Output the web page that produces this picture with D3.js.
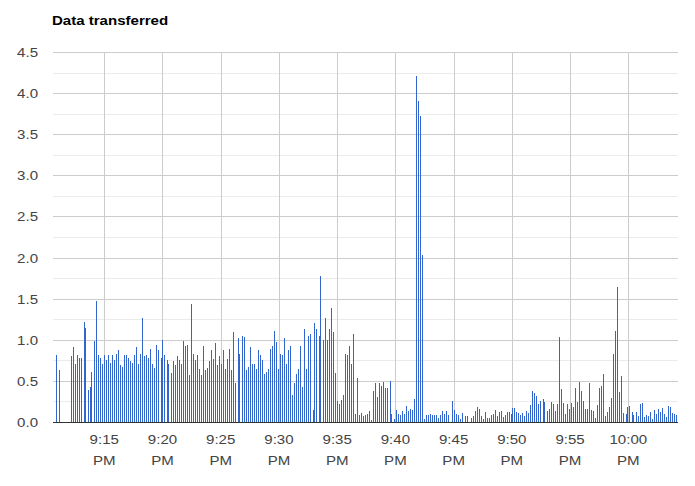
<!DOCTYPE html>
<html>
<head>
<meta charset="utf-8">
<script src="https://cdn.jsdelivr.net/npm/d3@7"></script>
<style>
  html, body { margin: 0; padding: 0; background: #fff; }
  svg { display: block; }
</style>
</head>
<body>
<div id="chart"></div>
<script>
// ---- DATA ----
const title = "Data transferred";
// sample times, seconds after 9:10:00 PM
const times = [54,69,131,142,152,162,172,183,198,203,219,229,234,250,260,270,281,291,301,312,322,332,343,353,363,374,384,394,404,415,425,435,446,456,466,477,487,497,507,518,528,538,549,559,569,580,595,600,611,626,631,647,657,667,678,688,698,708,719,729,739,750,760,770,781,791,
801,812,822,832,842,853,863,873,884,894,904,914,925,935,945,956,966,976,992,997,1012,1023,1033,1043,1054,1064,1074,1085,1095,1105,1116,1126,1136,1146,1157,1167,1177,1188,1198,1208,1219,1229,1239,1250,1260,1270,1280,1291,1301,1311,1322,1332,1342,1353,1363,1378,1383,1394,1409,1414,1430,1440,1450,1461,1471,
1481,1492,1502,1512,1523,1533,1543,1554,1564,1574,1584,1595,1605,1615,1626,1636,1646,1657,1667,1677,1688,1698,1708,1718,1729,1739,1749,1760,1775,1780,1796,1806,1816,1827,1837,1847,1858,1868,1878,1888,1899,1911,1921,1931,1942,1950,1961,1971,1981,1992,2002,2012,2022,2033,2043,2053,2064,2074,2095,2105,2115,2126,
2136,2146,2162,2172,2192,2203,2213,2223,2234,2244,2254,2265,2275,2285,2295,2306,2316,2326,2337,2347,2357,2368,2378,2388,2399,2404,2414,2424,2435,2445,2455,2466,2476,2486,2496,2507,2517,2527,2538,2548,2563,2569,2584,2594,2605,2615,2625,2636,2646,2656,
2667,2677,2687,2697,2708,2718,2728,2739,2749,2759,2770,2780,2790,2800,2811,2821,2831,2842,2852,2862,2873,2883,2893,2903,2914,2924,2934,2945,2955,2965,2976,2991,2996,3007,3022,3027,3043,3053,3063,3074,3084,3094,3104,3115,3125,3135,3146,3156,3166,3177,3187,3197,3208,3218,3228,3238,3249];

const values = [0.81,0.63,0.80,0.91,0.71,0.81,0.78,0.78,1.22,1.14,0.39,0.43,0.61,0.99,1.47,0.81,0.78,0.70,0.81,0.75,0.81,0.72,0.81,0.76,0.83,0.88,0.69,0.67,0.81,0.82,0.78,0.74,0.72,0.82,0.91,0.70,0.83,1.26,0.80,0.82,0.78,0.89,0.71,0.66,0.94,0.88,0.78,1.00,0.82,0.76,0.71,0.60,0.74,0.69,0.80,0.75,0.71,0.99,0.93,0.94,0.57,1.44,0.83,0.76,0.82,0.65,
0.57,0.93,0.63,0.66,0.74,0.88,0.77,0.96,0.69,0.80,0.70,0.87,0.65,0.77,0.89,0.63,1.10,0.47,1.02,0.83,1.04,1.03,0.63,0.67,0.91,0.70,0.70,0.64,0.87,0.82,0.76,0.58,0.61,0.64,0.89,0.93,1.11,0.97,0.65,0.83,0.81,1.02,0.71,0.87,0.93,0.33,0.48,0.58,0.64,0.93,0.43,1.13,0.65,1.04,1.07,0.14,1.20,1.13,1.04,1.77,1.00,1.26,1.00,1.13,1.39,
1.09,0.60,0.25,0.22,0.27,0.33,0.83,0.81,0.92,0.71,1.07,0.10,0.53,0.08,0.11,0.07,0.08,0.10,0.13,0.03,0.38,0.47,0.30,0.47,0.44,0.49,0.41,0.41,0.50,0.10,0.04,0.15,0.10,0.09,0.13,0.10,0.20,0.13,0.16,0.15,0.28,4.21,3.90,3.72,2.03,0.04,0.09,0.09,0.10,0.09,0.09,0.09,0.05,0.09,0.13,0.10,0.13,0.08,0.25,0.15,0.10,0.08,
0.04,0.11,0.07,0.07,0.05,0.07,0.13,0.18,0.16,0.07,0.04,0.12,0.05,0.05,0.09,0.10,0.15,0.07,0.12,0.13,0.06,0.09,0.12,0.12,0.10,0.17,0.17,0.12,0.11,0.09,0.11,0.07,0.13,0.11,0.21,0.38,0.35,0.32,0.22,0.26,0.28,0.24,0.13,0.16,0.24,0.22,0.13,0.22,1.03,0.40,
0.23,0.10,0.22,0.16,0.23,0.18,0.41,0.24,0.49,0.38,0.26,0.16,0.16,0.47,0.15,0.13,0.05,0.21,0.41,0.44,0.58,0.07,0.12,0.18,0.29,0.83,1.11,1.64,0.36,0.56,0.11,0.10,0.18,0.19,0.12,0.09,0.12,0.07,0.22,0.23,0.06,0.09,0.07,0.12,0.04,0.15,0.10,0.16,0.12,0.17,0.10,0.06,0.19,0.18,0.11,0.10,0.09];

// x axis ticks (minutes after 9:00 PM) and y ticks
const xTickMinutes = [15,20,25,30,35,40,45,50,55,60];
const yTicks = [0,0.5,1.0,1.5,2.0,2.5,3.0,3.5,4.0,4.5];
const yMinorTicks = [0.25,0.75,1.25,1.75,2.25,2.75,3.25,3.75,4.25];

// ---- CHART ----
const W = 695, H = 486;
const plot = {left: 53, right: 678, top: 52, bottom: 422};
const SX = 1.158; // horizontal text stretch of the reference

const base = new Date(2000, 0, 1, 21, 10, 0);
const sec = s => new Date(base.getTime() + s * 1000);

const x = d3.scaleTime()
  .domain([sec(36), sec(3256)])
  .range([plot.left, plot.right]);
const y = d3.scaleLinear()
  .domain([0, 4.5])
  .range([plot.bottom, plot.top]);

const svg = d3.select("#chart").append("svg")
  .attr("width", W).attr("height", H)
  .style("font-family", "'Liberation Sans', Arial, sans-serif");

const data = times.map((t, i) => ({t: sec(t), v: values[i]}));

// minor horizontal gridlines
svg.append("g").selectAll("line").data(yMinorTicks).join("line")
  .attr("x1", plot.left).attr("x2", plot.right)
  .attr("y1", d => Math.round(y(d)) + 0.5).attr("y2", d => Math.round(y(d)) + 0.5)
  .attr("stroke", "#ebebeb").attr("stroke-width", 1);

// major horizontal gridlines
svg.append("g").selectAll("line").data(yTicks.filter(d => d > 0)).join("line")
  .attr("x1", plot.left).attr("x2", plot.right)
  .attr("y1", d => Math.round(y(d)) + 0.5).attr("y2", d => Math.round(y(d)) + 0.5)
  .attr("stroke", "#cccccc").attr("stroke-width", 1);

// vertical gridlines
const xTicks = xTickMinutes.map(m => new Date(2000, 0, 1, 21, m, 0));
svg.append("g").selectAll("line").data(xTicks).join("line")
  .attr("x1", d => Math.round(x(d)) + 0.5).attr("x2", d => Math.round(x(d)) + 0.5)
  .attr("y1", plot.top).attr("y2", plot.bottom)
  .attr("stroke", "#cccccc").attr("stroke-width", 1);

// bars
svg.append("g").selectAll("rect").data(data).join("rect")
  .attr("x", d => Math.round(x(d.t) - 0.5))
  .attr("width", 1)
  .attr("y", d => y(d.v))
  .attr("height", d => y(0) - y(d.v))
  .attr("fill", "#3366cc")
  .attr("shape-rendering", "crispEdges");

// baseline
svg.append("line")
  .attr("x1", plot.left).attr("x2", plot.right)
  .attr("y1", y(0) + 0.5).attr("y2", y(0) + 0.5)
  .attr("stroke", "#333333").attr("stroke-width", 1);

// y labels
const fmtY = d3.format(".1f");
svg.append("g").selectAll("g").data(yTicks).join("g")
  .attr("transform", d => `translate(38,${Math.round(y(d)) + 5}) scale(${SX},1)`)
  .append("text")
  .attr("text-anchor", "end")
  .attr("font-size", 13)
  .attr("fill", "#444444")
  .text(d => fmtY(d));

// x labels (two lines)
const fmtT = d3.timeFormat("%-I:%M");
const fmtP = d3.timeFormat("%p");
const xl = svg.append("g").selectAll("g").data(xTicks).join("g")
  .attr("transform", d => `translate(${x(d)},0) scale(${SX},1)`);
xl.append("text")
  .attr("y", 444.5).attr("text-anchor", "middle")
  .attr("font-size", 13).attr("fill", "#444444")
  .text(d => fmtT(d));
xl.append("text")
  .attr("y", 465.5).attr("text-anchor", "middle")
  .attr("font-size", 13).attr("fill", "#444444")
  .text(d => fmtP(d));

// title
svg.append("g")
  .attr("transform", `translate(52,25) scale(${SX},1)`)
  .append("text")
  .attr("font-size", 13).attr("font-weight", "bold").attr("fill", "#000")
  .text(title);
</script>
</body>
</html>
